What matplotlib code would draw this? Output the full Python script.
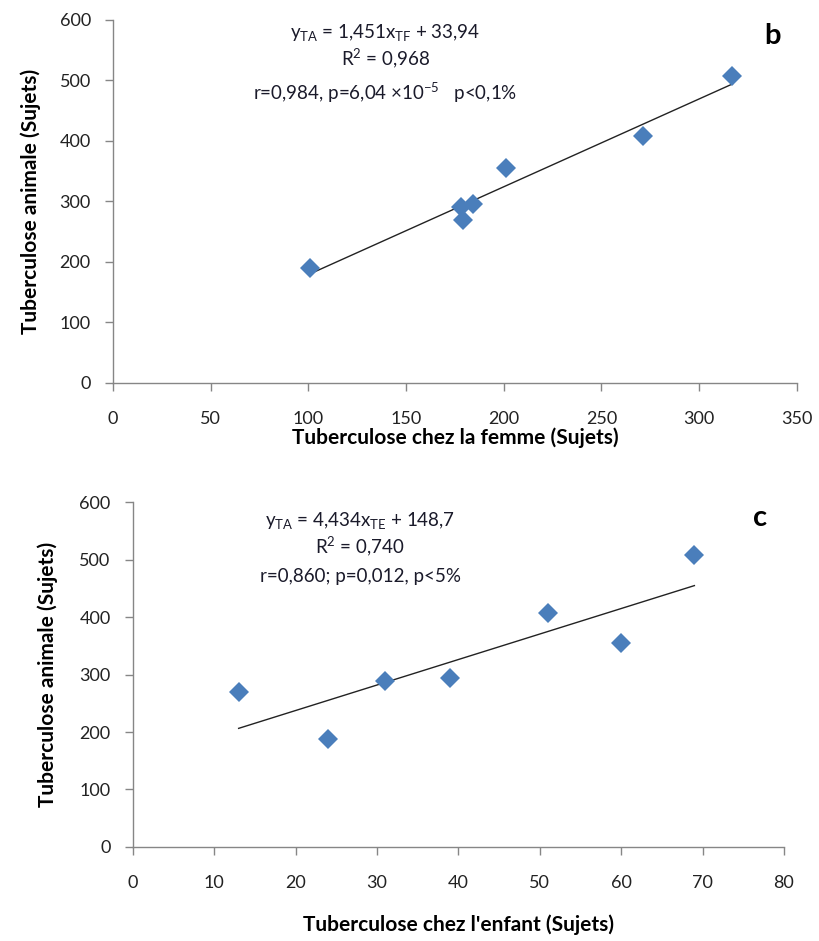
import matplotlib
matplotlib.use("Agg")
import matplotlib.pyplot as plt
import numpy as np

plt.rcParams["font.family"] = ["Lato", "DejaVu Sans"]
plt.rcParams["mathtext.default"] = "regular"

# shared y values: animal tuberculosis (subjects)
tb_animal_b = [190, 290, 270, 295, 355, 408, 507]
tb_femme = [101, 178, 179, 184, 201, 271, 317]

tb_animal_c = [270, 188, 288, 294, 407, 355, 507]
tb_enfant = [13, 24, 31, 39, 51, 60, 69]

# trendline coefficients as printed on the chart
fit_b = (1.451, 33.94)
fit_c = (4.434, 148.7)

text_b = [
    "y$_{TA}$ = 1,451x$_{TF}$ + 33,94",
    "R$^2$ = 0,968",
    "r=0,984, p=6,04 \u00d710$^{-5}$   p<0,1%",
]
text_c = [
    "y$_{TA}$ = 4,434x$_{TE}$ + 148,7",
    "R$^2$ = 0,740",
    "r=0,860; p=0,012, p<5%",
]

marker_color = "#4a7ebb"
axis_color = "#868686"
text_color = "#1a1a2a"


def style_axes(ax, xlim, xstep, xlabel, xlab_pos, ylab_pos):
    ax.set_xlim(*xlim)
    ax.set_ylim(0, 600)
    ax.set_xticks(np.arange(xlim[0], xlim[1] + 1, xstep))
    ax.set_yticks(np.arange(0, 601, 100))
    for side in ("top", "right"):
        ax.spines[side].set_visible(False)
    for side in ("left", "bottom"):
        ax.spines[side].set_color(axis_color)
        ax.spines[side].set_linewidth(1.0)
    ax.tick_params(axis="both", direction="out", length=6, width=1,
                   color=axis_color, labelsize=13, labelcolor="#222222")
    ax.tick_params(axis="x", pad=14)
    ax.tick_params(axis="y", pad=10)
    ax.set_xlabel(xlabel, fontsize=15, fontweight="bold", va="center")
    ax.set_ylabel("Tuberculose animale (Sujets)", fontsize=15,
                  fontweight="bold", va="center")
    ax.xaxis.set_label_coords(0.5, xlab_pos)
    ax.yaxis.set_label_coords(ylab_pos, 0.5)


def draw_panel(ax, x, y, fit, lines, tx, ty, letter, lx, ly):
    xs = np.array([min(x), max(x)])
    ax.plot(xs, fit[0] * xs + fit[1], color="#222222", linewidth=1.0, zorder=2)
    ax.plot(x, y, linestyle="none", marker="D", markersize=10,
            color=marker_color, markeredgewidth=0, zorder=3, clip_on=False)
    for i, line in enumerate(lines):
        ax.text(tx, ty[i], line, transform=ax.transAxes, ha="center",
                va="center", fontsize=13.5, color=text_color)
    ax.text(lx, ly, letter, transform=ax.transAxes, ha="center", va="center",
            fontsize=21, fontweight="bold", color="black")


fig = plt.figure(figsize=(8.2, 9.41), dpi=100)

ax_b = fig.add_axes([0.1378, 0.593, 0.834, 0.386])
style_axes(ax_b, (0, 350), 50, "Tuberculose chez la femme (Sujets)",
           -0.152, -0.121)
draw_panel(ax_b, tb_femme, tb_animal_b, fit_b, text_b,
           0.398, [0.964, 0.895, 0.80], "b", 0.965, 0.955)

ax_c = fig.add_axes([0.162, 0.0999, 0.794, 0.3666])
style_axes(ax_c, (0, 80), 10, "Tuberculose chez l'enfant (Sujets)",
           -0.226, -0.131)
draw_panel(ax_c, tb_enfant, tb_animal_c, fit_c, text_c,
           0.349, [0.945, 0.873, 0.783], "c", 0.963, 0.955)

fig.savefig("out.png", dpi=100)
plt.close(fig)
